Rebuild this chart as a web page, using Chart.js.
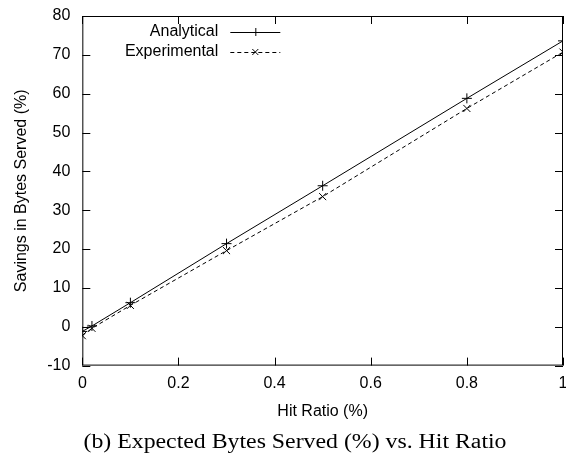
<!DOCTYPE html>
<html><head><meta charset="utf-8">
<script src="https://cdn.jsdelivr.net/npm/chart.js@4.4.0/dist/chart.umd.min.js"></script>
<style>html,body{margin:0;padding:0;background:#fff}#wrap{width:566px;height:456px}</style>
</head><body><div id="wrap"><canvas id="c" width="566" height="456"></canvas></div>
<script>
const hitRatio = [0, 0.02, 0.1, 0.3, 0.5, 0.8, 1];
const analytical = [-1.2, 0.2, 6.2, 21.4, 36.3, 58.8, 73.6];
const experimental = [-2.3, -0.4, 5.5, 19.6, 33.5, 56.2, 70.7];
const seriesNames = ['Analytical', 'Experimental'];
const xTicks = [0, 0.2, 0.4, 0.6, 0.8, 1];
const yTicks = [-10, 0, 10, 20, 30, 40, 50, 60, 70, 80];
const captionText = '(b) Expected Bytes Served (%) vs. Hit Ratio';

const SANS = '"Liberation Sans", Arial, Helvetica, sans-serif';
const SERIF = '"Liberation Serif", "Times New Roman", serif';

const toPts = (ys) => hitRatio.map((x, i) => ({x: x, y: ys[i]}));

const RIGHT_GAP = 3;

const framePlugin = {
  id: 'frame',
  afterLayout(chart) {
    const a = chart.chartArea;
    const target = chart.width - RIGHT_GAP;
    a.right = target;
    a.width = a.right - a.left;
    const xs = chart.scales.x;
    xs.right = target;
    xs.width = xs.right - xs.left;
    xs.configure();
  },
  afterDatasetsDraw(chart) {
    const {ctx, chartArea: a, scales} = chart;
    ctx.save();
    ctx.strokeStyle = '#000';
    ctx.lineWidth = 1;
    ctx.strokeRect(a.left + 0.5, a.top + 0.5, a.right - a.left - 1, a.bottom - a.top - 1);
    const L = 8;
    ctx.beginPath();
    xTicks.forEach(v => {
      const px = Math.round(scales.x.getPixelForValue(v)) + 0.5;
      ctx.moveTo(px, a.bottom); ctx.lineTo(px, a.bottom - L);
      ctx.moveTo(px, a.top); ctx.lineTo(px, a.top + L);
    });
    yTicks.forEach(v => {
      const py = Math.round(scales.y.getPixelForValue(v)) + 0.5;
      ctx.moveTo(a.left, py); ctx.lineTo(a.left + L, py);
      ctx.moveTo(a.right, py); ctx.lineTo(a.right - L, py);
    });
    ctx.stroke();
    // legend
    ctx.font = '16px ' + SANS;
    ctx.textAlign = 'right';
    ctx.textBaseline = 'middle';
    ctx.fillStyle = '#000';
    chart.data.datasets.forEach((ds, i) => {
      const y = a.top + 16 + i * 20;
      ctx.fillText(ds.label, a.left + 136, y);
      ctx.beginPath();
      ctx.setLineDash(ds.borderDash || []);
      const x0 = a.left + 148, x1 = a.left + 198;
      ctx.moveTo(x0, y + 0.5); ctx.lineTo(x1, y + 0.5);
      ctx.stroke();
      ctx.setLineDash([]);
      const cx = (x0 + x1) / 2, r = 4;
      ctx.beginPath();
      if (ds.pointStyle === 'cross') {
        ctx.moveTo(cx - r, y + 0.5); ctx.lineTo(cx + r, y + 0.5);
        ctx.moveTo(cx + 0.5, y - r); ctx.lineTo(cx + 0.5, y + r);
      } else {
        const d = r * 0.75;
        ctx.moveTo(cx - d, y - d); ctx.lineTo(cx + d, y + d);
        ctx.moveTo(cx - d, y + d); ctx.lineTo(cx + d, y - d);
      }
      ctx.stroke();
    });
    // caption
    ctx.font = '20px ' + SERIF;
    ctx.textAlign = 'center';
    ctx.textBaseline = 'alphabetic';
    ctx.translate(295, 448);
    ctx.scale(1.19, 1);
    ctx.fillText(captionText, 0, 0);
    ctx.restore();
  }
};

new Chart(document.getElementById('c'), {
  type: 'line',
  data: {
    datasets: [
      {label: seriesNames[0], data: toPts(analytical), borderColor: '#000', backgroundColor: '#000',
       borderWidth: 1, pointStyle: 'cross', pointRadius: 5, pointBorderWidth: 1, tension: 0},
      {label: seriesNames[1], data: toPts(experimental), borderColor: '#000', backgroundColor: '#000',
       borderWidth: 1, borderDash: [4, 3], pointStyle: 'crossRot', pointRadius: 5, pointBorderWidth: 1, tension: 0}
    ]
  },
  options: {
    responsive: false,
    animation: false,
    layout: {padding: {top: 16, right: 0, left: 12, bottom: 35}},
    scales: {
      x: {type: 'linear', min: 0, max: 1,
          afterBuildTicks: s => { s.ticks = xTicks.map(v => ({value: v})); },
          afterFit: s => { s.paddingRight = 0; s.paddingLeft = 0; },
          grid: {display: false, drawTicks: false}, border: {display: false},
          ticks: {color: '#000', font: {family: SANS, size: 16}, padding: 8,
                  callback: v => String(v)},
          title: {display: true, text: 'Hit Ratio (%)', color: '#000', font: {family: SANS, size: 16}, padding: {top: 1, bottom: 0}}},
      y: {type: 'linear', min: -10, max: 80,
          afterBuildTicks: s => { s.ticks = yTicks.map(v => ({value: v})); },
          afterFit: s => { s.paddingTop = 0; s.paddingBottom = 0; },
          grid: {display: false, drawTicks: false}, border: {display: false},
          ticks: {color: '#000', font: {family: SANS, size: 16}, padding: 12},
          title: {display: true, text: 'Savings in Bytes Served (%)', color: '#000', font: {family: SANS, size: 16}, padding: {top: 0, bottom: 4}}}
    },
    plugins: {
      legend: {display: false},
      tooltip: {enabled: false},
      title: {display: false}
    }
  },
  plugins: [framePlugin]
});
</script></body></html>
